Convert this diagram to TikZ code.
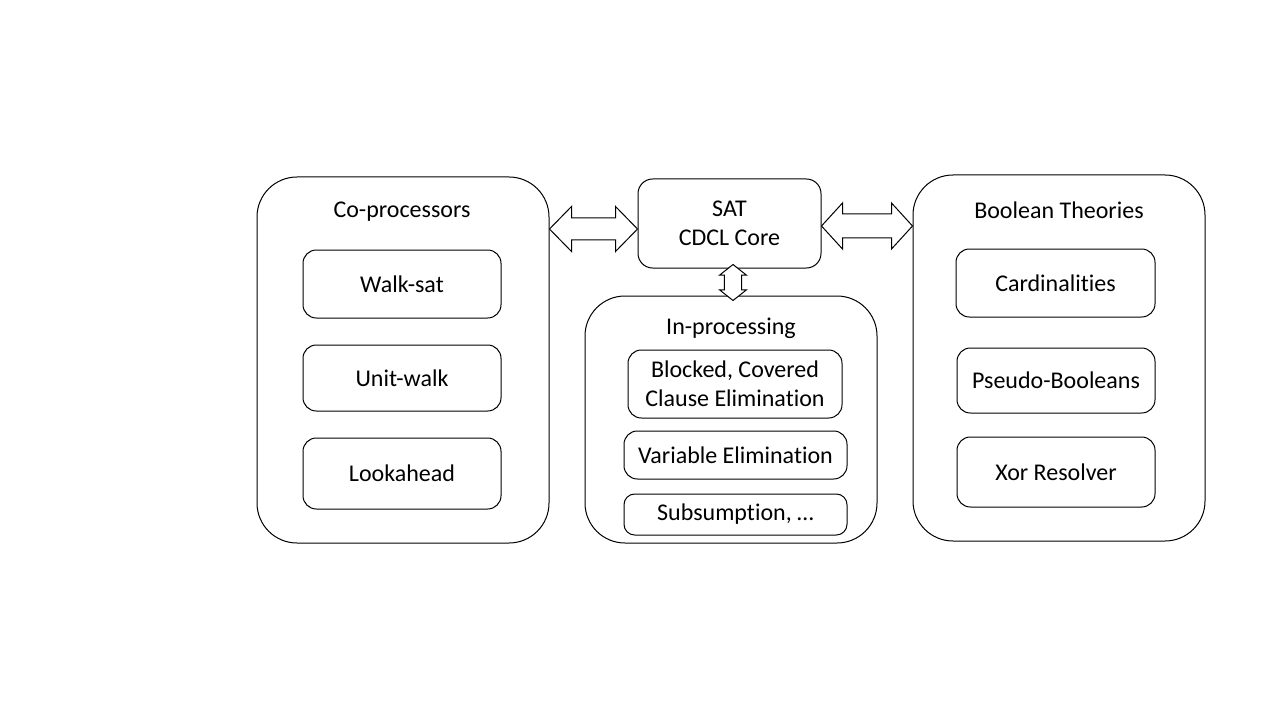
\documentclass[tikz,border=0pt]{standalone}
\usepackage{fontspec}
\setmainfont{Carlito}[Ligatures={NoCommon}]
\usetikzlibrary{calc}
\begin{document}
\begin{tikzpicture}[x=0.75pt,y=-0.75pt, line width=0.75pt,
  txt/.style={font=\fontsize{18pt}{21.8pt}\selectfont, align=center},
  outerbox/.style={draw, rounded corners=30pt, minimum width=219pt, minimum height=274.5pt, inner sep=0pt},
  innerbox/.style={draw, rounded corners=10pt, inner sep=0pt, txt},
  title/.style={txt, inner sep=0pt},
  harrow/.style={draw, fill=white, line join=miter}]
\path[fill=white] (0,0) rectangle (1280,720);

% Co-processors
\node[outerbox] (cop) at (403,360) {};
\node[title] (copt) at (402,212) {Co-processors};
\node[innerbox, minimum width=148.5pt, minimum height=51pt] (walk) at (402,284) {Walk-sat};
\node[innerbox, minimum width=148.5pt, minimum height=49.5pt] (unit) at (402,378) {Unit-walk};
\node[innerbox, minimum width=148.5pt, minimum height=53.25pt] (look) at (402,473.5) {Lookahead};

% SAT core
\node[draw, rounded corners=11pt, inner sep=0pt, txt, minimum width=137.25pt, minimum height=66.75pt] (sat) at (729.5,223.5) {SAT\\CDCL Core};

% In-processing
\node[outerbox, minimum height=185.25pt] (inp) at (731,419.5) {};
\node[title] (inpt) at (731,328) {In-processing};
\node[innerbox, minimum width=160.5pt, minimum height=51pt] (blk) at (735,384) {Blocked, Covered\\Clause Elimination};
\node[innerbox, minimum width=167.25pt, minimum height=36pt] (var) at (735.5,455) {Variable Elimination};
\node[innerbox, rounded corners=8pt, minimum width=167.25pt, minimum height=30.75pt] (sub) at (735.5,514.5) {Subsumption, \dots};

% Boolean theories
\node[outerbox] (bool) at (1059,358) {};
\node[title] (boolt) at (1059,210) {Boolean Theories};
\node[innerbox, minimum width=149.25pt, minimum height=51pt] (card) at (1055.5,283) {Cardinalities};
\node[innerbox, minimum width=148.5pt, minimum height=48.75pt] (pb) at (1056,380.5) {Pseudo-Booleans};
\node[innerbox, minimum width=148.5pt, minimum height=52.5pt] (xor) at (1056,472) {Xor Resolver};

% Double arrows
\coordinate (a1) at (cop.east |- 0,229);
\coordinate (a2) at (sat.west |- 0,229);
\draw[harrow] let \p1=(a1), \p2=(a2) in
  (\p1) -- ({\x1+16.5pt},{\y1+16.9pt}) -- ({\x1+16.5pt},{\y1+8.25pt})
  -- ({\x2-16.5pt},{\y2+8.25pt}) -- ({\x2-16.5pt},{\y2+16.9pt}) -- (\p2)
  -- ({\x2-16.5pt},{\y2-16.9pt}) -- ({\x2-16.5pt},{\y2-8.25pt})
  -- ({\x1+16.5pt},{\y1-8.25pt}) -- ({\x1+16.5pt},{\y1-16.9pt}) -- cycle;

\coordinate (b1) at (sat.east |- 0,226);
\coordinate (b2) at (bool.west |- 0,226);
\draw[harrow] let \p1=(b1), \p2=(b2) in
  (\p1) -- ({\x1+15.75pt},{\y1+17.25pt}) -- ({\x1+15.75pt},{\y1+9pt})
  -- ({\x2-15.75pt},{\y2+9pt}) -- ({\x2-15.75pt},{\y2+17.25pt}) -- (\p2)
  -- ({\x2-15.75pt},{\y2-17.25pt}) -- ({\x2-15.75pt},{\y2-9pt})
  -- ({\x1+15.75pt},{\y1-9pt}) -- ({\x1+15.75pt},{\y1-17.25pt}) -- cycle;

\coordinate (c1) at ($(sat.south -| 733,0)+(0,-4)$);
\coordinate (c2) at ($(inp.north -| 733,0)+(0,5)$);
\draw[harrow] let \p1=(c1), \p2=(c2) in
  (\p1) -- ({\x1+10.1pt},{\y1-8pt}) -- ({\x1+6.4pt},{\y1-8pt})
  -- ({\x2+6.4pt},{\y2+8pt}) -- ({\x2+10.1pt},{\y2+8pt}) -- (\p2)
  -- ({\x2-10.1pt},{\y2+8pt}) -- ({\x2-6.4pt},{\y2+8pt})
  -- ({\x1-6.4pt},{\y1-8pt}) -- ({\x1-10.1pt},{\y1-8pt}) -- cycle;
\end{tikzpicture}
\end{document}
